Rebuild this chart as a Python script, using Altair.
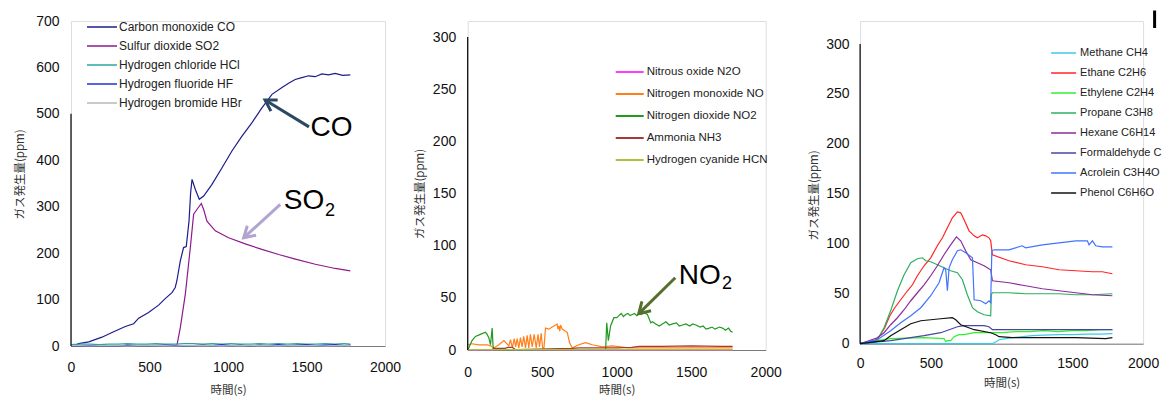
import altair as alt
import pandas as pd

# ---------------- data ----------------
# Panel 1
p1_names = ["Carbon monoxide CO", "Sulfur dioxide SO2", "Hydrogen chloride HCl",
            "Hydrogen fluoride HF", "Hydrogen bromide HBr"]
p1_colors = ["#1c1c8e", "#8e1a8e", "#2aa7a2", "#1f2fd8", "#b8b8b8"]

co_t = [0, 28, 49, 113, 197, 261, 346, 399, 431, 494, 558, 600, 643, 664, 674, 696, 717, 734, 744, 752,
        762, 771, 792, 817, 845, 898, 962, 1025, 1089, 1153, 1216, 1280, 1344, 1386, 1428, 1470, 1513,
        1555, 1598, 1640, 1683, 1730, 1779]
co_v = [0, 2, 5, 9, 19, 29, 42, 48, 60, 72, 88, 102, 115, 126, 140, 183, 212, 214, 245, 270,
        330, 359, 337, 316, 323, 348, 384, 420, 452, 481, 513, 542, 557, 566, 574, 578, 582,
        580, 586, 584, 587, 583, 584]
so2_t = [0, 675, 696, 728, 760, 781, 802, 830, 845, 866, 919, 1004, 1110, 1216, 1323, 1429, 1556, 1683, 1779]
so2_v = [0, 2, 39, 111, 212, 284, 294, 307, 294, 269, 248, 233, 220, 208, 197, 187, 176, 167, 162]
low_t = [0, 60, 120, 180, 240, 300, 360, 420, 480, 540, 600, 660, 720, 780, 840, 900, 960, 1020,
         1080, 1140, 1200, 1260, 1320, 1380, 1440, 1500, 1560, 1620, 1680, 1740, 1780]
hcl_v = [3, 4, 4, 3, 4, 4, 5, 4, 4, 5, 4, 4, 5, 5, 4, 5, 4, 5, 4, 4, 5, 4, 5, 4, 5, 4, 4, 5, 4, 5, 4]
hf_v = [0, 1, 0, 1, 1, 0, 2, 1, 0, 1, 2, 1, 0, 1, 2, 1, 3, 1, 2, 0, 2, 1, 3, 1, 2, 3, 1, 2, 3, 1, 2]
hbr_v = [1, 1, 0, 1, 1, 1, 0, 1, 1, 1, 1, 0, 1, 1, 1, 1, 0, 1, 1, 1, 1, 1, 0, 1, 1, 1, 1, 0, 1, 1, 1]

# Panel 2
p2_names = ["Nitrous oxide N2O", "Nitrogen monoxide NO", "Nitrogen dioxide NO2",
            "Ammonia NH3", "Hydrogen cyanide HCN"]
p2_colors = ["#ff3dff", "#ff7f1a", "#1f991f", "#a33a3a", "#aac23c"]

n2o_t = [0, 1778]
n2o_v = [0, 0]
no_t = [0, 29, 74, 130, 153, 175, 209, 243, 276, 287, 300, 312, 322, 332, 343, 354, 365, 376, 388, 399,
        410, 421, 433, 446, 460, 472, 482, 493, 503, 512, 522, 545, 567, 590, 600, 606, 612, 618, 623, 634,
        668, 684, 702, 746, 791, 836, 903, 970, 1083, 1200, 1307, 1450, 1600, 1778]
no_v = [5, 6, 5, 5, 4, 2, 5, 9, 4, 10, 2, 11, 3, 11, 2, 12, 3, 13, 2, 14,
        2, 15, 3, 15, 2, 15, 3, 16, 2, 2, 21, 20, 22, 24, 25, 20, 23, 18, 24, 20,
        17, 7, 2, 5, 7, 5, 3, 4, 2, 2, 2, 2, 2, 2]
no2_t = [0, 7, 29, 52, 85, 119, 130, 141, 153, 164, 170, 176, 926, 933, 944, 959, 981, 1000, 1015, 1030,
         1045, 1060, 1075, 1090, 1105, 1120, 1135, 1150, 1165, 1180, 1206, 1229, 1240, 1262, 1285, 1307,
         1330, 1352, 1375, 1400, 1420, 1442, 1465, 1490, 1510, 1531, 1560, 1580, 1600, 1621, 1640, 1660,
         1690, 1710, 1730, 1750, 1765, 1778]
no2_v = [0, 2, 9, 13, 15, 17, 15, 12, 5, 21, 4, 0, 0.6, 26, 9, 23, 31, 31, 33, 35,
         32, 34, 35, 33, 34, 35, 33, 35, 34, 36, 34, 26, 27, 25, 23, 25,
         27, 24, 25, 26, 23, 24, 25, 23, 25, 24, 22, 23, 20, 21, 22, 20,
         22, 21, 19, 21, 18, 17]
nh3_t = [0, 160, 175, 250, 270, 300, 320, 700, 750, 1000, 1100, 1150, 1300, 1500, 1700, 1778]
nh3_v = [0.5, 0.5, 1.5, 1.5, 2.5, 2.5, 0.5, 1.5, 2, 2, 2.5, 3.5, 3.5, 4, 3.5, 3.5]
hcn_t = [0, 1778]
hcn_v = [0.4, 0.4]

# Panel 3
p3_names = ["Methane CH4", "Ethane C2H6", "Ethylene C2H4", "Propane C3H8", "Hexane C6H14",
            "Formaldehyde CH2O", "Acrolein C3H4O", "Phenol C6H6O"]
p3_colors = ["#3cc8ec", "#ff2626", "#2ef02e", "#2eae62", "#8e2a9c", "#4646a8", "#4273ff", "#111111"]

ch4_t = [0, 935, 960, 982, 1030, 1076, 1150, 1217, 1300, 1406, 1500, 1600, 1700, 1783]
ch4_v = [0, 0, 2, 4, 5, 6, 7, 8, 8.5, 9, 9, 9.5, 9.5, 10]
c2h6_t = [0, 104, 139, 174, 210, 245, 287, 335, 370, 405, 452, 499, 546, 582, 617, 652, 688, 711, 735, 770,
          806, 829, 865, 888, 911, 923, 935, 1052, 1170, 1288, 1406, 1524, 1642, 1712, 1783]
c2h6_v = [0, 3, 8, 16, 28, 36, 44, 53, 59, 68, 78, 86, 98, 106, 116, 126, 132, 131, 124, 113,
          108, 106, 109, 108, 106, 103, 89, 83, 79, 77, 74, 73, 72, 72, 70]
c2h4_t = [0, 122, 216, 452, 593, 605, 617, 640, 664, 699, 735, 806, 923, 1006, 1100, 1200, 1300, 1400,
          1500, 1600, 1700, 1783]
c2h4_v = [0, 3, 5, 6, 5, 2, 3, 3, 7, 9, 9, 11, 11, 11, 12, 12, 13, 12, 13, 13, 14, 14]
c3h8_t = [0, 122, 169, 216, 264, 311, 358, 405, 440, 464, 499, 546, 593, 640, 688, 723, 758, 794, 829, 876,
          923, 927, 935, 1052, 1170, 1288, 1406, 1524, 1642, 1783]
c3h8_v = [0, 4, 16, 33, 53, 69, 81, 85, 86, 83, 82, 79, 76, 73, 71, 64, 49, 36, 32, 29,
          28, 49, 51, 51, 50, 50, 50, 49, 49, 50]
c6h14_t = [0, 122, 169, 216, 264, 311, 358, 405, 452, 499, 546, 593, 640, 681, 711, 746, 782, 829, 876,
           923, 935, 1052, 1170, 1288, 1406, 1524, 1642, 1783]
c6h14_v = [0, 6, 11, 19, 26, 34, 43, 51, 59, 68, 78, 89, 99, 107, 103, 93, 84, 81, 78,
           74, 63, 61, 58, 55, 53, 51, 49, 48]
ch2o_t = [0, 216, 452, 570, 688, 735, 876, 911, 935, 1100, 1300, 1500, 1783]
ch2o_v = [0, 3, 8, 11, 17, 18, 18, 17, 14, 14, 14, 14, 14]
c3h4o_t = [0, 122, 216, 287, 358, 429, 499, 558, 593, 605, 617, 629, 652, 688, 711, 746, 794, 806, 853, 888,
           911, 923, 931, 947, 1052, 1146, 1170, 1288, 1406, 1524, 1606, 1618, 1642, 1665, 1712, 1783]
c3h4o_v = [0, 4, 13, 21, 28, 36, 48, 61, 76, 74, 53, 76, 84, 93, 94, 91, 86, 44, 43, 40,
           43, 41, 93, 94, 94, 98, 96, 99, 101, 103, 103, 99, 103, 98, 97, 97]
phenol_t = [0, 169, 216, 287, 358, 429, 499, 570, 652, 676, 711, 806, 923, 959, 982, 1076, 1288, 1524, 1736, 1783]
phenol_v = [0, 3, 8, 14, 20, 23, 24, 25, 26, 24, 19, 14, 11, 9, 7, 6, 6, 6, 5, 6]

x_ticks = [0, 500, 1000, 1500, 2000]
y1_ticks = [0, 100, 200, 300, 400, 500, 600, 700]
y23_ticks = [0, 50, 100, 150, 200, 250, 300]

x_title = "時間(s)"
y_title = "ガス発生量(ppm)"


def long_df(names, ts, vs):
    rows = []
    for n, t, v in zip(names, ts, vs):
        for a, b in zip(t, v):
            rows.append({"gas": n, "t": a, "v": b})
    return pd.DataFrame(rows)


df1 = long_df(p1_names, [co_t, so2_t, low_t, low_t, low_t], [co_v, so2_v, hcl_v, hf_v, hbr_v])
df2 = long_df(p2_names, [n2o_t, no_t, no2_t, nh3_t, hcn_t], [n2o_v, no_v, no2_v, nh3_v, hcn_v])
df3 = long_df(p3_names, [ch4_t, c2h6_t, c2h4_t, c3h8_t, c6h14_t, ch2o_t, c3h4o_t, phenol_t],
              [ch4_v, c2h6_v, c2h4_v, c3h8_v, c6h14_v, ch2o_v, c3h4o_v, phenol_v])

LAT = "Liberation Sans"
CJK = "Noto Sans CJK JP"


def make_panel(df, names, colors, ymax, yvals, yline_top, xlabpad, ylabpad,
               ytx, yty, xty, leg):
    x_enc = alt.X("t:Q", scale=alt.Scale(domain=[0, 2000], nice=False),
                  axis=alt.Axis(values=x_ticks, format="d", title=x_title, ticks=False, grid=False,
                                labelFlush=False, domainColor="#7a7a7a", labelFont=LAT,
                                labelFontSize=14, labelColor="#111", labelPadding=xlabpad,
                                titleFont=CJK, titleFontSize=11.5, titleFontWeight="normal",
                                titleColor="#333", titleBaseline="middle", titleY=xty))
    y_enc = alt.Y("v:Q", scale=alt.Scale(domain=[0, ymax], nice=False, zero=True),
                  axis=alt.Axis(values=yvals, format="d", title=y_title, ticks=False, grid=False,
                                labelFlush=False, domain=False, labelFont=LAT, labelFontSize=14,
                                labelColor="#111", labelPadding=ylabpad, titleFont=CJK,
                                titleFontSize=11.5, titleFontWeight="normal", titleColor="#333",
                                titleBaseline="middle", titleAngle=-90, titleX=ytx, titleY=yty))
    lines = alt.Chart(df).mark_line(strokeWidth=1.2, interpolate="linear").encode(
        x=x_enc, y=y_enc,
        color=alt.Color("gas:N", scale=alt.Scale(domain=names, range=colors), legend=leg),
        detail="gas:N",
    )
    axis_df = pd.DataFrame({"t": [0], "v": [0], "v2": [yline_top]})
    yline = alt.Chart(axis_df).mark_rule(color="#000000", strokeWidth=1.2).encode(
        x=x_enc, y=y_enc, y2="v2:Q")
    return lines, yline, x_enc, y_enc


def annotation(x_enc, y_enc, label, lx, ly, size, sub, sx, sy, tail, head, ang, acolor):
    tdf = pd.DataFrame({"t": [lx], "v": [ly]})
    sdf = pd.DataFrame({"t": [sx], "v": [sy]})
    adf = pd.DataFrame({"t": [tail[0]], "v": [tail[1]], "t2": [head[0]], "v2": [head[1]]})
    hdf = pd.DataFrame({"t": [head[0]], "v": [head[1]]})
    txt = alt.Chart(tdf).mark_text(text=label, font=LAT, fontSize=size, align="left",
                                   baseline="alphabetic", color="#000").encode(x=x_enc, y=y_enc)
    layers = [txt]
    if sub:
        layers.append(alt.Chart(sdf).mark_text(text=sub, font=LAT, fontSize=18, align="left",
                                               baseline="alphabetic", color="#000").encode(x=x_enc, y=y_enc))
    shaft = alt.Chart(adf).mark_rule(color=acolor, strokeWidth=3).encode(
        x=x_enc, y=y_enc, x2="t2:Q", y2="v2:Q")
    tip = alt.Chart(hdf).mark_point(shape="M -0.75 1.25 L 0 0 L 0.75 1.25", filled=False,
                                    stroke=acolor, strokeWidth=3, size=300, angle=ang,
                                    opacity=1).encode(x=x_enc, y=y_enc)
    layers += [shaft, tip]
    return layers


leg1 = alt.Legend(orient="none", legendX=15, legendY=-3.4, title=None, symbolType="stroke",
                  symbolSize=900, symbolStrokeWidth=1.5, labelFont=LAT, labelFontSize=12,
                  labelOffset=1, rowPadding=0, clipHeight=18.8, padding=0, labelColor="#222")
leg2 = alt.Legend(orient="none", legendX=147, legendY=40.4, title=None, symbolType="stroke",
                  symbolSize=784, symbolStrokeWidth=2, labelFont=LAT, labelFontSize=11.5,
                  labelOffset=2, rowPadding=0, clipHeight=21.2, padding=0, labelColor="#222")
# the reference cuts the long formaldehyde label at the right edge of the picture
leg3 = alt.Legend(orient="none", legendX=190, legendY=22.3, title=None, symbolType="stroke",
                  symbolSize=625, symbolStrokeWidth=1.5, labelFont=LAT, labelFontSize=11,
                  labelOffset=3, rowPadding=0, clipHeight=19.4, padding=0, labelColor="#222",
                  labelExpr="datum.label == 'Formaldehyde CH2O' ? 'Formaldehyde C' : datum.label")

# Panel 1: plot area 314 x 325
l1, r1, x1, y1 = make_panel(df1, p1_names, p1_colors, 700, y1_ticks, 500,
                            14, 12, -51, 153, 44, leg1)
a1 = annotation(x1, y1, "CO", 1525, 452, 28, None, 0, 0, (1516, 472), (1236, 530), 301.5, "#2d4862")
a1b = annotation(x1, y1, "SO", 1355, 295, 28, "2", 1618, 280, (1333, 305), (1100, 233), 227.6, "#b3a3d0")
panel1 = alt.layer(l1, r1, *a1, *a1b).properties(width=314, height=325)

# Panel 2: 0..300 spans 313 px; extended to the common top
ymax2 = 300 * 329 / 313
l2, r2, x2, y2 = make_panel(df2, p2_names, p2_colors, ymax2, y23_ticks, 300,
                            15, 12, -47, 172.5, 40, leg2)
a2 = annotation(x2, y2, "NO", 1416, 63, 28, "2", 1707, 58.5, (1393, 69.3), (1148, 34.8), 225.5, "#566f2e")
panel2 = alt.layer(l2, r2, *a2).properties(width=298, height=329)

# Panel 3: 0..300 spans 300 px
ymax3 = 300 * 322.7 / 299.7
l3, r3, x3, y3 = make_panel(df3, p3_names, p3_colors, ymax3, y23_ticks, 300,
                            13, 11, -46, 174, 40, leg3)
# small black bar seen at the top right corner of the reference picture
corner_bar = alt.Chart(pd.DataFrame({"k": [0]})).mark_rule(color="#000000", strokeWidth=3).encode(
    x=alt.value(294.5), y=alt.value(-10.5), y2=alt.value(7))
panel3 = alt.layer(l3, r3, corner_bar).properties(width=283, height=322.7)

inner = alt.hconcat(panel2, panel3, spacing=94.4, bounds="flush").resolve_scale(
    color="independent").resolve_legend(color="independent")
chart = alt.hconcat(panel1, inner, spacing=82.7, bounds="flush").resolve_scale(
    color="independent").resolve_legend(color="independent")

chart = chart.properties(padding={"left": 5, "top": 0, "right": 0, "bottom": 0}).configure_view(
    stroke="transparent", strokeWidth=0).configure(background="white")

chart.save("out.html", embed_options={"renderer": "svg", "actions": False})
